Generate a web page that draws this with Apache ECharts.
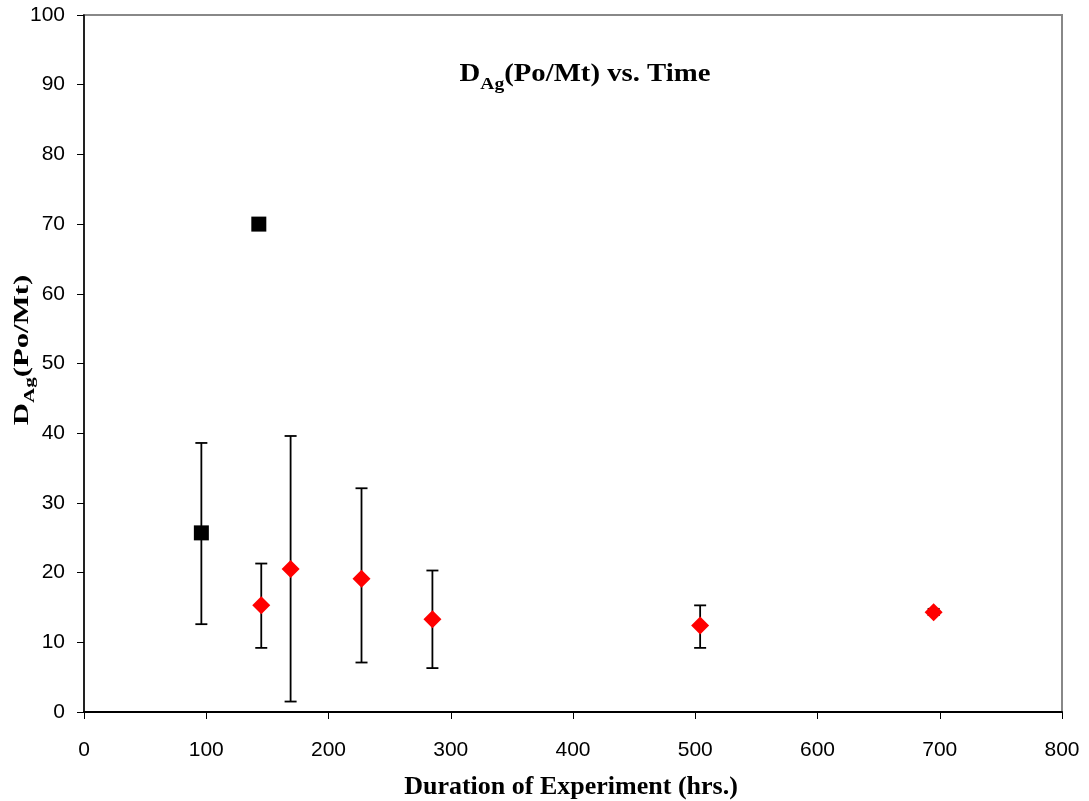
<!DOCTYPE html>
<html>
<head>
<meta charset="utf-8">
<script src="https://cdn.jsdelivr.net/npm/echarts@6/dist/echarts.min.js"></script>
<style>html,body{margin:0;padding:0;background:#fff}#c{width:1089px;height:801px}</style>
</head>
<body>
<div id="c"></div>
<script>
// Black squares
const squareX = [96, 143];
const squareY = [25.7, 70.0];
const squareLow = [12.6, null];
const squareHigh = [38.6, null];
// Red diamonds
const diamondX = [145, 169, 227, 285, 504, 695];
const diamondY = [15.3, 20.5, 19.1, 13.3, 12.4, 14.3];
const diamondLow = [9.2, 1.5, 7.1, 6.3, 9.2, 13.9];
const diamondHigh = [21.3, 39.6, 32.1, 20.3, 15.3, 14.8];

const errData = [];
squareX.forEach((x, i) => { if (squareLow[i] != null) errData.push([x, squareLow[i], squareHigh[i]]); });
diamondX.forEach((x, i) => errData.push([x, diamondLow[i], diamondHigh[i]]));

const chart = echarts.init(document.getElementById('c'), null, {renderer: 'canvas'});
const serif = 'Liberation Serif, Times New Roman, serif';
const sans = 'Liberation Sans, Arial, sans-serif';

function richText(main, sub, rest, size, subSize, drop) {
  return {
    text: '{d|' + main + '}{s|' + sub + '}{d|' + rest + '}',
    rich: {
      d: {fontFamily: serif, fontWeight: 'bold', fontSize: size, fill: '#000', verticalAlign: 'bottom'},
      s: {fontFamily: serif, fontWeight: 'bold', fontSize: subSize, fill: '#000', verticalAlign: 'bottom', padding: [0, 0, -drop, 0]}
    },
    align: 'center', verticalAlign: 'middle'
  };
}

chart.setOption({
  animation: false,
  backgroundColor: '#fff',
  grid: {left: 84, right: 27, top: 15, bottom: 89, show: true, borderColor: '#888', borderWidth: 2,
         backgroundColor: 'transparent', containLabel: false, outerBoundsMode: 'none'},
  graphic: [
    {
      type: 'text', x: 585, y: 75, scaleX: 1.15, scaleY: 1,
      style: richText('D', 'Ag', '(Po/Mt) vs. Time', 25, 17, 6)
    },
    {
      type: 'text', x: 22, y: 350, rotation: Math.PI / 2, scaleX: 1.4, scaleY: 1,
      style: richText('D', 'Ag', '(Po/Mt)', 22, 15, 5)
    },
    {
      type: 'text', x: 571, y: 787,
      style: {text: 'Duration of Experiment (hrs.)', fontFamily: serif, fontWeight: 'bold', fontSize: 26,
              fill: '#000', align: 'center', verticalAlign: 'middle'}
    }
  ],
  xAxis: {
    type: 'value', min: 0, max: 800, interval: 100,
    axisLine: {show: true, onZero: false, lineStyle: {color: '#000', width: 2}},
    axisTick: {show: true, inside: false, length: 7, lineStyle: {color: '#000', width: 1}},
    axisLabel: {fontFamily: sans, fontSize: 21, color: '#000', margin: 28},
    splitLine: {show: false}
  },
  yAxis: {
    type: 'value', min: 0, max: 100, interval: 10,
    axisLine: {show: true, onZero: false, lineStyle: {color: '#000', width: 1.5}},
    axisTick: {show: true, inside: false, length: 7, lineStyle: {color: '#000', width: 1}},
    axisLabel: {fontFamily: sans, fontSize: 21, color: '#000', margin: 19},
    splitLine: {show: false}
  },
  series: [
    {
      type: 'custom',
      data: errData,
      z: 2,
      renderItem: function (params, api) {
        const x = api.value(0);
        const lo = api.coord([x, api.value(1)]);
        const hi = api.coord([x, api.value(2)]);
        const w = 6;
        const st = {stroke: '#000', lineWidth: 1.8};
        return {
          type: 'group',
          children: [
            {type: 'line', shape: {x1: lo[0], y1: lo[1], x2: hi[0], y2: hi[1]}, style: st},
            {type: 'line', shape: {x1: lo[0]-w, y1: lo[1], x2: lo[0]+w, y2: lo[1]}, style: st},
            {type: 'line', shape: {x1: hi[0]-w, y1: hi[1], x2: hi[0]+w, y2: hi[1]}, style: st}
          ]
        };
      }
    },
    {
      type: 'scatter', z: 3,
      data: squareX.map((x, i) => [x, squareY[i]]),
      symbol: 'rect', symbolSize: 15,
      itemStyle: {color: '#000', opacity: 1}
    },
    {
      type: 'scatter', z: 3,
      data: diamondX.map((x, i) => [x, diamondY[i]]),
      symbol: 'diamond', symbolSize: [18, 18],
      itemStyle: {color: '#ff0000', opacity: 1}
    }
  ]
});
</script>
</body>
</html>
